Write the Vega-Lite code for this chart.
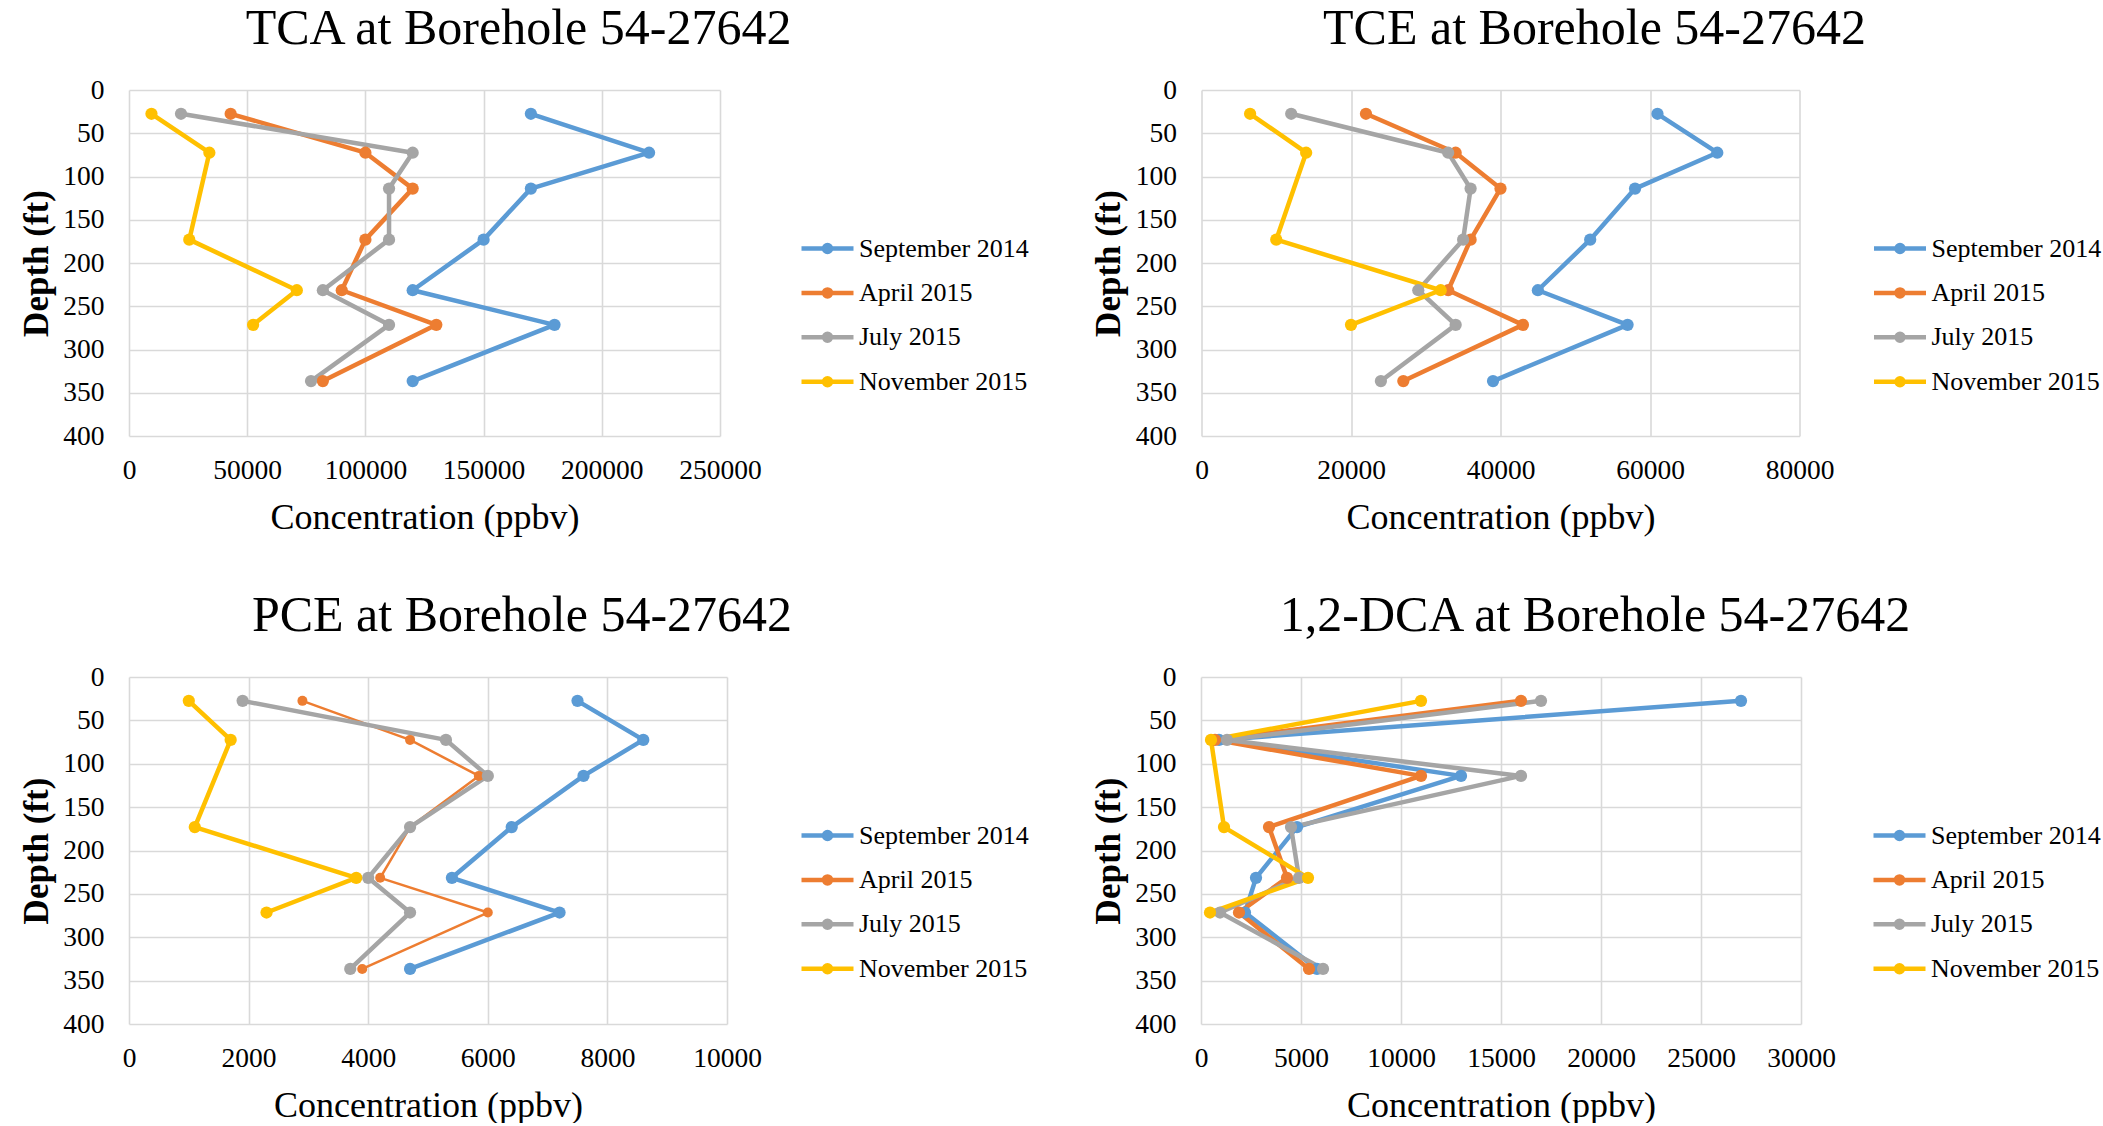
{
"$schema": "https://vega.github.io/schema/vega-lite/v6.json",
"padding": {"left": 19, "top": 4, "right": 5, "bottom": 0},
"background": "white",
"datasets": {"d": [
{"chem":"TCA","date":"September 2014","depth":27.5,"conc":170000},
{"chem":"TCA","date":"September 2014","depth":72.5,"conc":220000},
{"chem":"TCA","date":"September 2014","depth":114,"conc":170000},
{"chem":"TCA","date":"September 2014","depth":173,"conc":150000},
{"chem":"TCA","date":"September 2014","depth":231.5,"conc":120000},
{"chem":"TCA","date":"September 2014","depth":271.5,"conc":180000},
{"chem":"TCA","date":"September 2014","depth":336.5,"conc":120000},
{"chem":"TCA","date":"April 2015","depth":27.5,"conc":43000},
{"chem":"TCA","date":"April 2015","depth":72.5,"conc":100000},
{"chem":"TCA","date":"April 2015","depth":114,"conc":120000},
{"chem":"TCA","date":"April 2015","depth":173,"conc":100000},
{"chem":"TCA","date":"April 2015","depth":231.5,"conc":90000},
{"chem":"TCA","date":"April 2015","depth":271.5,"conc":130000},
{"chem":"TCA","date":"April 2015","depth":336.5,"conc":82000},
{"chem":"TCA","date":"July 2015","depth":27.5,"conc":22000},
{"chem":"TCA","date":"July 2015","depth":72.5,"conc":120000},
{"chem":"TCA","date":"July 2015","depth":114,"conc":110000},
{"chem":"TCA","date":"July 2015","depth":173,"conc":110000},
{"chem":"TCA","date":"July 2015","depth":231.5,"conc":82000},
{"chem":"TCA","date":"July 2015","depth":271.5,"conc":110000},
{"chem":"TCA","date":"July 2015","depth":336.5,"conc":77000},
{"chem":"TCA","date":"November 2015","depth":27.5,"conc":9500},
{"chem":"TCA","date":"November 2015","depth":72.5,"conc":34000},
{"chem":"TCA","date":"November 2015","depth":173,"conc":25500},
{"chem":"TCA","date":"November 2015","depth":231.5,"conc":71000},
{"chem":"TCA","date":"November 2015","depth":271.5,"conc":52500},
{"chem":"TCE","date":"September 2014","depth":27.5,"conc":61000},
{"chem":"TCE","date":"September 2014","depth":72.5,"conc":69000},
{"chem":"TCE","date":"September 2014","depth":114,"conc":58000},
{"chem":"TCE","date":"September 2014","depth":173,"conc":52000},
{"chem":"TCE","date":"September 2014","depth":231.5,"conc":45000},
{"chem":"TCE","date":"September 2014","depth":271.5,"conc":57000},
{"chem":"TCE","date":"September 2014","depth":336.5,"conc":39000},
{"chem":"TCE","date":"April 2015","depth":27.5,"conc":22000},
{"chem":"TCE","date":"April 2015","depth":72.5,"conc":34000},
{"chem":"TCE","date":"April 2015","depth":114,"conc":40000},
{"chem":"TCE","date":"April 2015","depth":173,"conc":36000},
{"chem":"TCE","date":"April 2015","depth":231.5,"conc":33000},
{"chem":"TCE","date":"April 2015","depth":271.5,"conc":43000},
{"chem":"TCE","date":"April 2015","depth":336.5,"conc":27000},
{"chem":"TCE","date":"July 2015","depth":27.5,"conc":12000},
{"chem":"TCE","date":"July 2015","depth":72.5,"conc":33000},
{"chem":"TCE","date":"July 2015","depth":114,"conc":36000},
{"chem":"TCE","date":"July 2015","depth":173,"conc":35000},
{"chem":"TCE","date":"July 2015","depth":231.5,"conc":29000},
{"chem":"TCE","date":"July 2015","depth":271.5,"conc":34000},
{"chem":"TCE","date":"July 2015","depth":336.5,"conc":24000},
{"chem":"TCE","date":"November 2015","depth":27.5,"conc":6500},
{"chem":"TCE","date":"November 2015","depth":72.5,"conc":14000},
{"chem":"TCE","date":"November 2015","depth":173,"conc":10000},
{"chem":"TCE","date":"November 2015","depth":231.5,"conc":32000},
{"chem":"TCE","date":"November 2015","depth":271.5,"conc":20000},
{"chem":"PCE","date":"September 2014","depth":27.5,"conc":7500},
{"chem":"PCE","date":"September 2014","depth":72.5,"conc":8600},
{"chem":"PCE","date":"September 2014","depth":114,"conc":7600},
{"chem":"PCE","date":"September 2014","depth":173,"conc":6400},
{"chem":"PCE","date":"September 2014","depth":231.5,"conc":5400},
{"chem":"PCE","date":"September 2014","depth":271.5,"conc":7200},
{"chem":"PCE","date":"September 2014","depth":336.5,"conc":4700},
{"chem":"PCE","date":"April 2015","depth":27.5,"conc":2900},
{"chem":"PCE","date":"April 2015","depth":72.5,"conc":4700},
{"chem":"PCE","date":"April 2015","depth":114,"conc":5850},
{"chem":"PCE","date":"April 2015","depth":173,"conc":4700},
{"chem":"PCE","date":"April 2015","depth":231.5,"conc":4200},
{"chem":"PCE","date":"April 2015","depth":271.5,"conc":6000},
{"chem":"PCE","date":"April 2015","depth":336.5,"conc":3900},
{"chem":"PCE","date":"July 2015","depth":27.5,"conc":1900},
{"chem":"PCE","date":"July 2015","depth":72.5,"conc":5300},
{"chem":"PCE","date":"July 2015","depth":114,"conc":6000},
{"chem":"PCE","date":"July 2015","depth":173,"conc":4700},
{"chem":"PCE","date":"July 2015","depth":231.5,"conc":4000},
{"chem":"PCE","date":"July 2015","depth":271.5,"conc":4700},
{"chem":"PCE","date":"July 2015","depth":336.5,"conc":3700},
{"chem":"PCE","date":"November 2015","depth":27.5,"conc":1000},
{"chem":"PCE","date":"November 2015","depth":72.5,"conc":1700},
{"chem":"PCE","date":"November 2015","depth":173,"conc":1100},
{"chem":"PCE","date":"November 2015","depth":231.5,"conc":3800},
{"chem":"PCE","date":"November 2015","depth":271.5,"conc":2300},
{"chem":"DCA","date":"September 2014","depth":27.5,"conc":27000},
{"chem":"DCA","date":"September 2014","depth":72.5,"conc":900},
{"chem":"DCA","date":"September 2014","depth":114,"conc":13000},
{"chem":"DCA","date":"September 2014","depth":173,"conc":4800},
{"chem":"DCA","date":"September 2014","depth":231.5,"conc":2750},
{"chem":"DCA","date":"September 2014","depth":271.5,"conc":2200},
{"chem":"DCA","date":"September 2014","depth":336.5,"conc":5800},
{"chem":"DCA","date":"April 2015","depth":27.5,"conc":16000},
{"chem":"DCA","date":"April 2015","depth":72.5,"conc":700},
{"chem":"DCA","date":"April 2015","depth":114,"conc":11000},
{"chem":"DCA","date":"April 2015","depth":173,"conc":3400},
{"chem":"DCA","date":"April 2015","depth":231.5,"conc":4300},
{"chem":"DCA","date":"April 2015","depth":271.5,"conc":1900},
{"chem":"DCA","date":"April 2015","depth":336.5,"conc":5400},
{"chem":"DCA","date":"July 2015","depth":27.5,"conc":17000},
{"chem":"DCA","date":"July 2015","depth":72.5,"conc":1300},
{"chem":"DCA","date":"July 2015","depth":114,"conc":16000},
{"chem":"DCA","date":"July 2015","depth":173,"conc":4500},
{"chem":"DCA","date":"July 2015","depth":231.5,"conc":4900},
{"chem":"DCA","date":"July 2015","depth":271.5,"conc":950},
{"chem":"DCA","date":"July 2015","depth":336.5,"conc":6100},
{"chem":"DCA","date":"November 2015","depth":27.5,"conc":11000},
{"chem":"DCA","date":"November 2015","depth":72.5,"conc":500},
{"chem":"DCA","date":"November 2015","depth":173,"conc":1150},
{"chem":"DCA","date":"November 2015","depth":231.5,"conc":5350},
{"chem":"DCA","date":"November 2015","depth":271.5,"conc":450}
]},
"data": {"name": "d"},
"spacing": 587,
"bounds": "flush",
"resolve": {"legend": {"color": "independent"}},
"vconcat": [
{"hconcat": [
 {"width": 591, "height": 346,
  "title": {"text": "TCA at Borehole 54-27642"},
  "transform": [{"filter": "datum.chem == 'TCA'"}],
  "encoding": {
   "x": {"field": "conc", "type": "quantitative", "scale": {"domain": [0, 250000], "nice": false}, "axis": {"values": [0, 50000, 100000, 150000, 200000, 250000], "format": "d", "title": "Concentration (ppbv)"}},
   "y": {"field": "depth", "type": "quantitative", "scale": {"domain": [0, 400], "reverse": true, "nice": false}, "axis": {"values": [0, 50, 100, 150, 200, 250, 300, 350, 400], "title": "Depth (ft)", "titleY": 173}},
   "color": {"field": "date", "type": "nominal", "scale": {"domain": ["September 2014", "April 2015", "July 2015", "November 2015"], "range": ["#5B9BD5", "#ED7D31", "#A5A5A5", "#FFC000"]},
    "legend": {"title": null, "orient": "none", "legendX": 683, "legendY": 143, "padding": 0, "symbolType": "M-2,0L2,0M-0.27,0A0.27,0.27,0,1,1,0.27,0A0.27,0.27,0,1,1,-0.27,0Z", "symbolSize": 676, "symbolStrokeWidth": 4.5, "labelFont": "Liberation Serif", "labelFontSize": 26, "labelColor": "#000", "labelOffset": 16, "rowPadding": 15.4, "labelLimit": 400,
     "encode": {"symbols": {"update": {"fill": {"scale": "color", "field": "value"}, "stroke": {"scale": "color", "field": "value"}, "opacity": {"value": 1}}}}}},
   "order": {"field": "depth", "type": "quantitative"}
  },
  "layer": [
   {"mark": {"type": "line", "strokeWidth": 4.5, "strokeJoin": "round", "strokeCap": "round"}},
   {"mark": {"type": "point", "filled": true, "size": 150, "opacity": 1, "strokeWidth": 0}}
  ]},
 {"width": 598, "height": 346,
  "title": {"text": "TCE at Borehole 54-27642"},
  "transform": [{"filter": "datum.chem == 'TCE'"}],
  "encoding": {
   "x": {"field": "conc", "type": "quantitative", "scale": {"domain": [0, 80000], "nice": false}, "axis": {"values": [0, 20000, 40000, 60000, 80000], "format": "d", "title": "Concentration (ppbv)"}},
   "y": {"field": "depth", "type": "quantitative", "scale": {"domain": [0, 400], "reverse": true, "nice": false}, "axis": {"values": [0, 50, 100, 150, 200, 250, 300, 350, 400], "title": "Depth (ft)", "titleY": 173}},
   "color": {"field": "date", "type": "nominal", "scale": {"domain": ["September 2014", "April 2015", "July 2015", "November 2015"], "range": ["#5B9BD5", "#ED7D31", "#A5A5A5", "#FFC000"]},
    "legend": {"title": null, "orient": "none", "legendX": 683, "legendY": 143, "padding": 0, "symbolType": "M-2,0L2,0M-0.27,0A0.27,0.27,0,1,1,0.27,0A0.27,0.27,0,1,1,-0.27,0Z", "symbolSize": 676, "symbolStrokeWidth": 4.5, "labelFont": "Liberation Serif", "labelFontSize": 26, "labelColor": "#000", "labelOffset": 16, "rowPadding": 15.4, "labelLimit": 400,
     "encode": {"symbols": {"update": {"fill": {"scale": "color", "field": "value"}, "stroke": {"scale": "color", "field": "value"}, "opacity": {"value": 1}}}}}},
   "order": {"field": "depth", "type": "quantitative"}
  },
  "layer": [
   {"mark": {"type": "line", "strokeWidth": 4.5, "strokeJoin": "round", "strokeCap": "round"}},
   {"mark": {"type": "point", "filled": true, "size": 150, "opacity": 1, "strokeWidth": 0}}
  ]}
 ], "spacing": 481.5, "bounds": "flush", "resolve": {"legend": {"color": "independent"}}},
{"hconcat": [
 {"width": 598, "height": 347,
  "title": {"text": "PCE at Borehole 54-27642"},
  "transform": [{"filter": "datum.chem == 'PCE'"}],
  "encoding": {
   "x": {"field": "conc", "type": "quantitative", "scale": {"domain": [0, 10000], "nice": false}, "axis": {"values": [0, 2000, 4000, 6000, 8000, 10000], "format": "d", "title": "Concentration (ppbv)"}},
   "y": {"field": "depth", "type": "quantitative", "scale": {"domain": [0, 400], "reverse": true, "nice": false}, "axis": {"values": [0, 50, 100, 150, 200, 250, 300, 350, 400], "title": "Depth (ft)", "titleY": 173.5}},
   "color": {"field": "date", "type": "nominal", "scale": {"domain": ["September 2014", "April 2015", "July 2015", "November 2015"], "range": ["#5B9BD5", "#ED7D31", "#A5A5A5", "#FFC000"]},
    "legend": {"title": null, "orient": "none", "legendX": 683, "legendY": 143, "padding": 0, "symbolType": "M-2,0L2,0M-0.27,0A0.27,0.27,0,1,1,0.27,0A0.27,0.27,0,1,1,-0.27,0Z", "symbolSize": 676, "symbolStrokeWidth": 4.5, "labelFont": "Liberation Serif", "labelFontSize": 26, "labelColor": "#000", "labelOffset": 16, "rowPadding": 15.4, "labelLimit": 400,
     "encode": {"symbols": {"update": {"fill": {"scale": "color", "field": "value"}, "stroke": {"scale": "color", "field": "value"}, "opacity": {"value": 1}}}}}},
   "order": {"field": "depth", "type": "quantitative"}
  },
  "layer": [
   {"transform": [{"filter": "datum.date == 'April 2015'"}], "mark": {"type": "line", "strokeWidth": 2.5, "strokeJoin": "round", "strokeCap": "round"}},
   {"transform": [{"filter": "datum.date != 'April 2015'"}], "mark": {"type": "line", "strokeWidth": 4.5, "strokeJoin": "round", "strokeCap": "round"}},
   {"mark": {"type": "point", "filled": true, "opacity": 1, "strokeWidth": 0},
    "encoding": {"size": {"condition": {"test": "datum.date == 'April 2015'", "value": 100}, "value": 150}}}
  ]},
 {"width": 600, "height": 347,
  "title": {"text": "1,2-DCA at Borehole 54-27642"},
  "transform": [{"filter": "datum.chem == 'DCA'"}],
  "encoding": {
   "x": {"field": "conc", "type": "quantitative", "scale": {"domain": [0, 30000], "nice": false}, "axis": {"values": [0, 5000, 10000, 15000, 20000, 25000, 30000], "format": "d", "title": "Concentration (ppbv)"}},
   "y": {"field": "depth", "type": "quantitative", "scale": {"domain": [0, 400], "reverse": true, "nice": false}, "axis": {"values": [0, 50, 100, 150, 200, 250, 300, 350, 400], "title": "Depth (ft)", "titleY": 173.5}},
   "color": {"field": "date", "type": "nominal", "scale": {"domain": ["September 2014", "April 2015", "July 2015", "November 2015"], "range": ["#5B9BD5", "#ED7D31", "#A5A5A5", "#FFC000"]},
    "legend": {"title": null, "orient": "none", "legendX": 683, "legendY": 143, "padding": 0, "symbolType": "M-2,0L2,0M-0.27,0A0.27,0.27,0,1,1,0.27,0A0.27,0.27,0,1,1,-0.27,0Z", "symbolSize": 676, "symbolStrokeWidth": 4.5, "labelFont": "Liberation Serif", "labelFontSize": 26, "labelColor": "#000", "labelOffset": 16, "rowPadding": 15.4, "labelLimit": 400,
     "encode": {"symbols": {"update": {"fill": {"scale": "color", "field": "value"}, "stroke": {"scale": "color", "field": "value"}, "opacity": {"value": 1}}}}}},
   "order": {"field": "depth", "type": "quantitative"}
  },
  "layer": [
   {"mark": {"type": "line", "strokeWidth": 4.5, "strokeJoin": "round", "strokeCap": "round"}},
   {"mark": {"type": "point", "filled": true, "size": 150, "opacity": 1, "strokeWidth": 0}}
  ]}
 ], "spacing": 474, "bounds": "flush", "resolve": {"legend": {"color": "independent"}}}
],
"config": {
 "font": "Liberation Serif",
 "view": {"stroke": null},
 "axis": {"grid": true, "gridColor": "#d9d9d9", "gridWidth": 1.6, "domain": false, "ticks": false, "tickSize": 0, "labelFont": "Liberation Serif", "labelFontSize": 27.5, "labelColor": "#000", "titleFont": "Liberation Serif", "titleColor": "#000", "labelOverlap": false, "labelFlush": false},
 "axisX": {"labelBaseline": "alphabetic", "labelPadding": 42, "titleFontSize": 36, "titleFontWeight": "normal", "titleY": 92, "titleBaseline": "alphabetic"},
 "axisY": {"labelPadding": 25, "titleFontSize": 35, "titleFontWeight": "bold", "titleX": -82, "titleBaseline": "alphabetic", "titleAngle": 270, "titleAlign": "center"},
 "title": {"font": "Liberation Serif", "fontSize": 50, "fontWeight": "normal", "color": "#000", "anchor": "middle", "frame": "group", "baseline": "alphabetic", "offset": 22, "dx": 94}
}
}
